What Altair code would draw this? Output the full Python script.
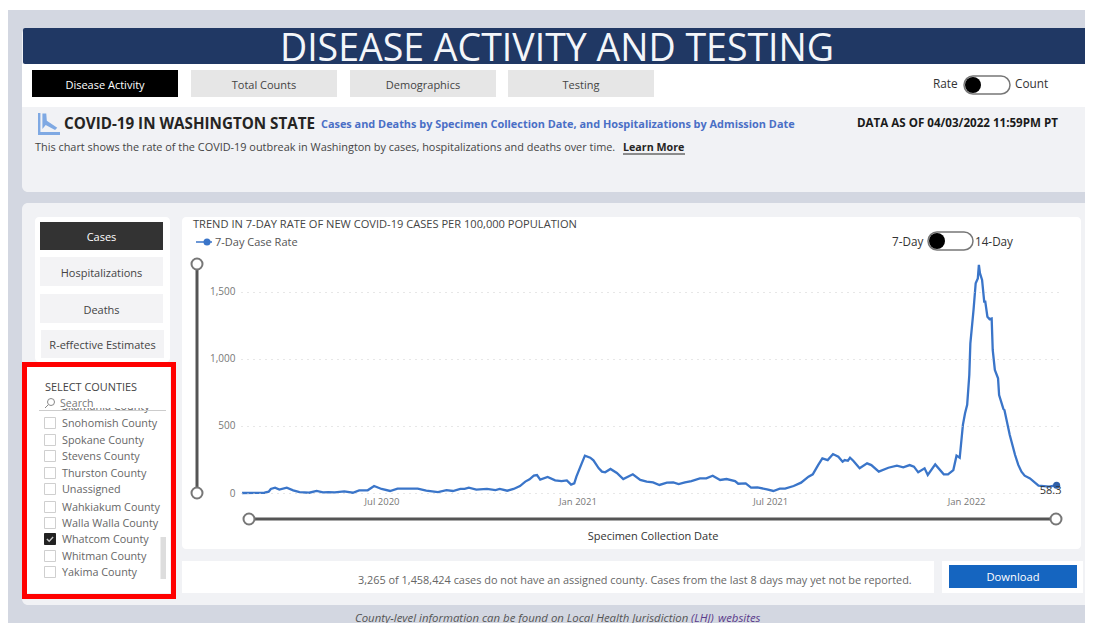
import altair as alt
import pandas as pd

# ---------- chart values ----------
START = "2020-02-20"
DAY_OFFSETS = [1, 22, 26, 28, 32, 36, 43, 49, 55, 64, 71, 77, 82, 88, 97, 105, 111, 119, 125, 132, 140, 147,
               166, 174, 185, 193, 199, 206, 210, 214, 221, 231, 239, 243, 250, 256, 262, 267, 271, 275, 278,
               281, 288, 295, 301, 306, 310, 313, 315, 320, 323, 328, 331, 336, 339, 342, 347, 353, 359, 368,
               375, 381, 387, 393, 400, 406, 411, 417, 423, 431, 437, 443, 450, 456, 464, 467, 474, 479, 485,
               494, 500, 506, 511, 519, 526, 533, 537, 542, 546, 551, 556, 561, 565, 567, 570, 572, 575, 581,
               588, 592, 599, 608, 616, 622, 628, 632, 636, 642, 645, 652, 660, 664, 669, 672, 675, 678, 680,
               682, 684, 685, 688, 690, 692, 693, 694, 696, 698, 699, 701, 703, 705, 706, 708, 711, 712, 716,
               717, 722, 727, 730, 733, 736, 741, 749, 759, 766]
RATES = [0, 2, 10, 30, 40, 25, 40, 20, 7, 2, 15, 5, 7, 5, 12, 2, 20, 20, 52, 30, 15, 32,
         32, 17, 7, 22, 15, 30, 30, 40, 25, 30, 22, 30, 17, 30, 52, 85, 102, 129, 134,
         99, 119, 94, 89, 94, 62, 72, 122, 221, 278, 263, 243, 184, 159, 154, 179, 149, 104, 139,
         97, 84, 79, 60, 77, 79, 67, 79, 89, 109, 109, 129, 97, 104, 89, 69, 72, 40, 42,
         27, 15, 32, 32, 52, 77, 122, 139, 208, 258, 245, 290, 270, 233, 245, 240, 263, 240, 184,
         221, 208, 159, 188, 203, 191, 208, 196, 154, 184, 134, 213, 139, 139, 171, 278, 262, 507, 594,
         656, 879, 1115, 1366, 1562, 1598, 1699, 1637, 1587, 1425, 1425, 1313, 1295, 1300, 1065, 916, 854, 730, 626,
         618, 432, 283, 209, 159, 129, 109, 55, 47, 58.3]
Y_TICKS = [0, 500, 1000, 1500]
TABS = ["Disease Activity", "Total Counts", "Demographics", "Testing"]
SIDE_BUTTONS = ["Cases", "Hospitalizations", "Deaths", "R-effective Estimates"]
COUNTIES = ["Snohomish County", "Spokane County", "Stevens County", "Thurston County", "Unassigned",
            "Wahkiakum County", "Walla Walla County", "Whatcom County", "Whitman County", "Yakima County"]
CHECKED = "Whatcom County"

# ---------- page layout (reference pixels) ----------
FONT = "Open Sans"
VIEW_X, VIEW_Y = 241, 258      # where the plot area starts on the page
VIEW_W, VIEW_H = 822, 235
TAB_LEFT = [32, 191, 350, 508]
SIDE_TOP = [(40, 163, 222, 250), (40, 163, 257, 286), (40, 163, 294, 323), (41, 164, 330, 358)]
ROW_Y = [423, 440, 456, 473, 489, 507, 523, 539, 556, 572]

ONE = alt.InlineData(values=[{}])
layers = []


def box(x0, y0, x1, y1, fill, radius=0, stroke=None, sw=1):
    kw = {"fill": fill, "cornerRadius": radius}
    if stroke:
        kw.update(stroke=stroke, strokeWidth=sw)
    else:
        kw.update(strokeWidth=0)
    layers.append(alt.Chart(ONE).mark_rect(**kw).encode(
        x=alt.value(x0 - VIEW_X), x2=alt.value(x1 - VIEW_X),
        y=alt.value(y0 - VIEW_Y), y2=alt.value(y1 - VIEW_Y)))


def label(text, x, y, size=10.5, color="#444444", bold=False, align="left", italic=False, font=FONT):
    kw = {}
    if bold:
        kw["fontWeight"] = "bold"
    if italic:
        kw["fontStyle"] = "italic"
    layers.append(alt.Chart(ONE).mark_text(text=text, fontSize=size, color=color, align=align,
                                           baseline="middle", font=font, **kw).encode(
        x=alt.value(x - VIEW_X), y=alt.value(y + 1 - VIEW_Y)))


def dot(x, y, d, fill, stroke=None, sw=0, shape="circle"):
    kw = {"fill": fill, "filled": True, "opacity": 1, "strokeWidth": sw, "shape": shape}
    if stroke:
        kw["stroke"] = stroke
    layers.append(alt.Chart(ONE).mark_point(size=d * d, **kw).encode(
        x=alt.value(x - VIEW_X), y=alt.value(y - VIEW_Y)))


def rule(x0, y0, x1, y1, color, w):
    layers.append(alt.Chart(ONE).mark_rule(color=color, strokeWidth=w).encode(
        x=alt.value(x0 - VIEW_X), x2=alt.value(x1 - VIEW_X),
        y=alt.value(y0 - VIEW_Y), y2=alt.value(y1 - VIEW_Y)))


def toggle(x0, x1, y0, y1):
    box(x0, y0, x1, y1, "#ffffff", radius=(y1 - y0) / 2, stroke="#777777", sw=1.5)
    dot(x0 + (y1 - y0) / 2, (y0 + y1) / 2, y1 - y0 - 2, "#000000")


# page + cards
box(7, 10, 1093, 623, "#d3d7e1")
box(22, 28, 1093, 192, "#f1f2f5", radius=6)
box(22, 64, 1093, 107, "#ffffff")
box(23, 28, 1093, 64, "#203864", radius=2)
label("DISEASE ACTIVITY AND TESTING", 557, 49, size=37.5, color="#f4f6fa", align="center")

for i, t in enumerate(TABS):
    active = i == 0
    box(TAB_LEFT[i], 70, TAB_LEFT[i] + 146, 97, "#000000" if active else "#e6e6e6")
    label(t, TAB_LEFT[i] + 73, 84.5, size=11, color="#ffffff" if active else "#444444", align="center")

label("Rate", 933, 83, size=11.8, color="#333333")
toggle(964, 1010, 76, 94)
label("Count", 1015, 83, size=11.8, color="#333333")

# icon
dot(49, 124, 22, "#7fa9e3", shape="M-1 -1L-0.78 -1L-0.78 0.72L1 0.72L1 1L-1 1Z"
    "M-0.6 -0.95L-0.25 -0.95L-0.2 -0.3L0.75 0.35L0.55 0.55L-0.3 0.1L-0.6 0.45Z")
label("COVID-19 IN WASHINGTON STATE", 64, 123, size=15.2, color="#252423", bold=True)
label("Cases and Deaths by Specimen Collection Date, and Hospitalizations by Admission Date", 321, 124,
      size=10.9, color="#4a6fc6", bold=True)
label("DATA AS OF 04/03/2022 11:59PM PT", 857, 123, size=11.6, color="#1a1a1a", bold=True)
label("This chart shows the rate of the COVID-19 outbreak in Washington by cases, hospitalizations and deaths over time.",
      35, 147, size=10.9, color="#444444")
label("Learn More", 623, 147, size=10.7, color="#252423", bold=True)
rule(623, 154, 685, 154, "#252423", 1)

# lower card
box(22, 203, 1093, 605, "#f1f2f5", radius=6)
box(35, 217, 170, 362, "#ffffff", radius=4)
box(182, 217, 1081, 549, "#ffffff", radius=4)
box(182, 561, 934, 593, "#ffffff")
box(942, 561, 1083, 593, "#ffffff")
box(949, 565, 1077, 588, "#1565c0")
label("Download", 1013, 576.5, size=11.2, color="#ffffff", align="center")
label("3,265 of 1,458,424 cases do not have an assigned county. Cases from the last 8 days may yet not be reported.",
      358, 580, size=10.9, color="#666666")

for i, t in enumerate(SIDE_BUTTONS):
    x0, x1, y0, y1 = SIDE_TOP[i]
    box(x0, y0, x1, y1, "#333333" if i == 0 else "#f3f3f5")
    label(t, (x0 + x1) / 2, (y0 + y1) / 2 + 1, size=11, color="#ffffff" if i == 0 else "#444444", align="center")

# slicer
box(27, 367, 170, 593, "#ffffff")
label("Skamania County", 62, 406, size=10.8, color="#666666")
box(40, 396, 166, 408, "#ffffff")
label("SELECT COUNTIES", 45, 387, size=10.9, color="#444444")
label("Search", 60, 403, size=10.6, color="#777777")
dot(51, 402, 7, "#ffffff", stroke="#888888", sw=1)
rule(45, 408, 48, 405, "#888888", 1)
rule(39, 410.5, 166, 410.5, "#cccccc", 1)
for i, c in enumerate(COUNTIES):
    checked = c == CHECKED
    box(44.5, ROW_Y[i] - 5.5, 55.5, ROW_Y[i] + 5.5, "#222222" if checked else "#ffffff",
        stroke="#222222" if checked else "#cfcfcf", sw=1)
    if checked:
        dot(50, ROW_Y[i], 8, "#c8c8c8",
            shape="M-0.9 0.1L-0.65 -0.15L-0.2 0.3L0.65 -0.6L0.9 -0.35L-0.2 0.8Z")
    label(c, 62, ROW_Y[i], size=10.8, color="#666666")
box(160.5, 537, 166, 579, "#dddddd")
box(22, 362, 176, 367, "#ff0000")
box(22, 594, 176, 599, "#ff0000")
box(22, 362, 27, 599, "#ff0000")
box(171, 362, 176, 599, "#ff0000")

# chart furniture
label("TREND IN 7-DAY RATE OF NEW COVID-19 CASES PER 100,000 POPULATION", 193, 224, size=11.1, color="#444444")
rule(196, 242, 212, 242, "#3a75c9", 1.5)
dot(207, 242, 7, "#3a75c9")
label("7-Day Case Rate", 215, 241.5, size=11, color="#555555")
label("7-Day", 892, 241, size=11.7, color="#333333")
toggle(928, 973, 232, 250)
label("14-Day", 975, 241, size=11.7, color="#333333")
rule(197, 264, 197, 493, "#555555", 3)
dot(197, 264, 11, "#ffffff", stroke="#777777", sw=2)
dot(197, 493, 11, "#ffffff", stroke="#777777", sw=2)
rule(249, 519, 1056, 519, "#555555", 3)
dot(249, 519, 11, "#ffffff", stroke="#777777", sw=2)
dot(1056, 519, 11, "#ffffff", stroke="#777777", sw=2)
label("Specimen Collection Date", 653, 535.5, size=11, color="#333333", align="center")
label("County-level information can be found on Local Health Jurisdiction", 355, 617.5, size=11.4, color="#555555", italic=True)
label("(LHJ)", 691, 617.5, size=11.4, color="#5a3a8a", italic=True)
label("websites", 718, 617.5, size=11.4, color="#5a3a8a", italic=True)

# the plot
df = pd.DataFrame({"date": pd.Timestamp(START) + pd.to_timedelta(DAY_OFFSETS, unit="D"), "rate": RATES})
x_enc = alt.X("date:T", title=None,
              scale=alt.Scale(domain=[alt.DateTime(year=2020, month=2, date=20),
                                      alt.DateTime(year=2022, month=4, date=2)]),
              axis=alt.Axis(tickCount={"interval": "month", "step": 6}, format="%b %Y", grid=False, ticks=False,
                            domain=False, labelColor="#777777", labelFont=FONT, labelFontSize=9.5, labelPadding=3,
                            zindex=1))
y_enc = alt.Y("rate:Q", title=None, scale=alt.Scale(domain=[0, 1750], nice=False),
              axis=alt.Axis(values=Y_TICKS, format=",.0f", ticks=False, domain=False, labelColor="#777777",
                            labelFont=FONT, labelFontSize=10, labelPadding=6, grid=True, gridColor="#cfcfcf",
                            gridDash=[1, 5], gridWidth=1, zindex=1))
layers.append(alt.Chart(df).mark_line(color="#3a75c9", strokeWidth=2.3, interpolate="linear").encode(x=x_enc, y=y_enc))
last = df.tail(1)
layers.append(alt.Chart(last).mark_point(filled=True, size=50, color="#2f5fa8", opacity=1).encode(x="date:T", y="rate:Q"))
layers.append(alt.Chart(last).mark_text(color="#333333", font=FONT, fontSize=11, dx=-6, dy=6).encode(
    x="date:T", y="rate:Q", text=alt.Text("rate:Q", format=".1f")))

chart = alt.layer(*layers).properties(
    width=VIEW_W, height=VIEW_H, background="#ffffff",
    padding={"left": VIEW_X - 8, "top": VIEW_Y - 8, "right": 1077 - (VIEW_X - 8) - VIEW_W, "bottom": 615 - (VIEW_Y - 8) - VIEW_H},
    autosize=alt.AutoSizeParams(type="none"),
).configure_view(strokeWidth=0)
chart.save("out.html", embed_options={"renderer": "svg", "actions": False})
